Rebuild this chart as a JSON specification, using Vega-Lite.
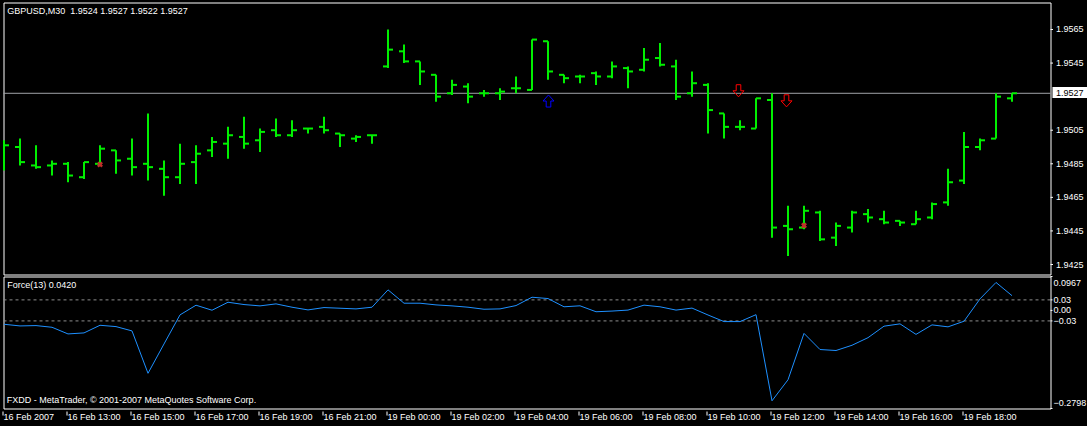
{
  "$schema": "https://vega.github.io/schema/vega-lite/v6.json",
  "autosize": {"type": "pad"},
  "padding": {"left": 1.5, "top": 1.5, "right": 12, "bottom": 12},
  "background": "#000000",
  "bounds": "flush",
  "spacing": 2,
  "config": {
    "view": {"stroke": "#ffffff", "strokeWidth": 1, "fill": "#000000"},
    "font": "Liberation Sans",
    "axis": {"grid": false, "domain": false, "labelFont": "Liberation Sans", "labelFontSize": 9, "labelColor": "#ffffff", "tickColor": "#ffffff", "tickWidth": 1, "translate": 0}
  },
  "resolve": {"scale": {"x": "independent", "y": "independent"}},
  "datasets": {
    "bars": [
      {"i": 0, "t": "16 Feb 11:00", "o": 1.9491, "h": 1.9499, "l": 1.9481, "c": 1.9496, "f": -0.0395},
      {"i": 1, "t": "16 Feb 11:30", "o": 1.9495, "h": 1.9500, "l": 1.9484, "c": 1.9486, "f": -0.0443},
      {"i": 2, "t": "16 Feb 12:00", "o": 1.9484, "h": 1.9496, "l": 1.9482, "c": 1.9483, "f": -0.0433},
      {"i": 3, "t": "16 Feb 12:30", "o": 1.9484, "h": 1.9487, "l": 1.9478, "c": 1.9485, "f": -0.0481},
      {"i": 4, "t": "16 Feb 13:00", "o": 1.9485, "h": 1.9486, "l": 1.9474, "c": 1.9478, "f": -0.0671},
      {"i": 5, "t": "16 Feb 13:30", "o": 1.9477, "h": 1.9486, "l": 1.9476, "c": 1.9486, "f": -0.0642},
      {"i": 6, "t": "16 Feb 14:00", "o": 1.9485, "h": 1.9496, "l": 1.9484, "c": 1.9494, "f": -0.0424},
      {"i": 7, "t": "16 Feb 14:30", "o": 1.9493, "h": 1.9493, "l": 1.9479, "c": 1.9487, "f": -0.0462},
      {"i": 8, "t": "16 Feb 15:00", "o": 1.9488, "h": 1.9500, "l": 1.9478, "c": 1.9483, "f": -0.0585},
      {"i": 9, "t": "16 Feb 15:30", "o": 1.9485, "h": 1.9515, "l": 1.9475, "c": 1.9483, "f": -0.1794},
      {"i": 10, "t": "16 Feb 16:00", "o": 1.9482, "h": 1.9487, "l": 1.9466, "c": 1.9477, "f": -0.0957},
      {"i": 11, "t": "16 Feb 16:30", "o": 1.9477, "h": 1.9497, "l": 1.9473, "c": 1.9485, "f": -0.0128},
      {"i": 12, "t": "16 Feb 17:00", "o": 1.9486, "h": 1.9496, "l": 1.9473, "c": 1.9491, "f": 0.0148},
      {"i": 13, "t": "16 Feb 17:30", "o": 1.9493, "h": 1.9501, "l": 1.9489, "c": 1.9498, "f": 0.0005},
      {"i": 14, "t": "16 Feb 18:00", "o": 1.9497, "h": 1.9507, "l": 1.9488, "c": 1.9502, "f": 0.0233},
      {"i": 15, "t": "16 Feb 18:30", "o": 1.9501, "h": 1.9513, "l": 1.9494, "c": 1.9497, "f": 0.0167},
      {"i": 16, "t": "16 Feb 19:00", "o": 1.9499, "h": 1.9506, "l": 1.9492, "c": 1.9504, "f": 0.0129},
      {"i": 17, "t": "16 Feb 19:30", "o": 1.9505, "h": 1.9512, "l": 1.9501, "c": 1.9502, "f": 0.0186},
      {"i": 18, "t": "16 Feb 20:00", "o": 1.9502, "h": 1.9511, "l": 1.9501, "c": 1.9505, "f": 0.0091},
      {"i": 19, "t": "16 Feb 20:30", "o": 1.9506, "h": 1.9506, "l": 1.9503, "c": 1.9506, "f": 0.0014},
      {"i": 20, "t": "16 Feb 21:00", "o": 1.9507, "h": 1.9513, "l": 1.9503, "c": 1.9505, "f": 0.0081},
      {"i": 21, "t": "16 Feb 21:30", "o": 1.9503, "h": 1.9503, "l": 1.9495, "c": 1.9502, "f": 0.0062},
      {"i": 22, "t": "16 Feb 22:00", "o": 1.9500, "h": 1.9502, "l": 1.9498, "c": 1.9501, "f": 0.0043},
      {"i": 23, "t": "16 Feb 22:30", "o": 1.9502, "h": 1.9502, "l": 1.9497, "c": 1.9502, "f": 0.0091},
      {"i": 24, "t": "19 Feb 00:00", "o": 1.9543, "h": 1.9565, "l": 1.9542, "c": 1.9553, "f": 0.0586},
      {"i": 25, "t": "19 Feb 00:30", "o": 1.9552, "h": 1.9556, "l": 1.9545, "c": 1.9546, "f": 0.0205},
      {"i": 26, "t": "19 Feb 01:00", "o": 1.9546, "h": 1.9546, "l": 1.9532, "c": 1.9540, "f": 0.0205},
      {"i": 27, "t": "19 Feb 01:30", "o": 1.9538, "h": 1.9538, "l": 1.9522, "c": 1.9525, "f": 0.0157},
      {"i": 28, "t": "19 Feb 02:00", "o": 1.9527, "h": 1.9535, "l": 1.9526, "c": 1.9532, "f": 0.0129},
      {"i": 29, "t": "19 Feb 02:30", "o": 1.9531, "h": 1.9533, "l": 1.9521, "c": 1.9525, "f": 0.0091},
      {"i": 30, "t": "19 Feb 03:00", "o": 1.9527, "h": 1.9529, "l": 1.9525, "c": 1.9527, "f": 0.0033},
      {"i": 31, "t": "19 Feb 03:30", "o": 1.9527, "h": 1.9530, "l": 1.9523, "c": 1.9528, "f": 0.0043},
      {"i": 32, "t": "19 Feb 04:00", "o": 1.9530, "h": 1.9537, "l": 1.9527, "c": 1.9530, "f": 0.0138},
      {"i": 33, "t": "19 Feb 04:30", "o": 1.9529, "h": 1.9559, "l": 1.9529, "c": 1.9559, "f": 0.0376},
      {"i": 34, "t": "19 Feb 05:00", "o": 1.9558, "h": 1.9558, "l": 1.9535, "c": 1.9540, "f": 0.0338},
      {"i": 35, "t": "19 Feb 05:30", "o": 1.9538, "h": 1.9538, "l": 1.9533, "c": 1.9536, "f": 0.0103},
      {"i": 36, "t": "19 Feb 06:00", "o": 1.9537, "h": 1.9538, "l": 1.9533, "c": 1.9537, "f": 0.0131},
      {"i": 37, "t": "19 Feb 06:30", "o": 1.9539, "h": 1.9540, "l": 1.9532, "c": 1.9537, "f": -0.0038},
      {"i": 38, "t": "19 Feb 07:00", "o": 1.9537, "h": 1.9546, "l": 1.9536, "c": 1.9543, "f": -0.0019},
      {"i": 39, "t": "19 Feb 07:30", "o": 1.9542, "h": 1.9543, "l": 1.9530, "c": 1.9540, "f": 0.0009},
      {"i": 40, "t": "19 Feb 08:00", "o": 1.9541, "h": 1.9554, "l": 1.9540, "c": 1.9547, "f": 0.0150},
      {"i": 41, "t": "19 Feb 08:30", "o": 1.9548, "h": 1.9557, "l": 1.9543, "c": 1.9544, "f": 0.0103},
      {"i": 42, "t": "19 Feb 09:00", "o": 1.9543, "h": 1.9547, "l": 1.9523, "c": 1.9525, "f": 0.0009},
      {"i": 43, "t": "19 Feb 09:30", "o": 1.9527, "h": 1.9540, "l": 1.9525, "c": 1.9533, "f": 0.0066},
      {"i": 44, "t": "19 Feb 10:00", "o": 1.9532, "h": 1.9533, "l": 1.9503, "c": 1.9517, "f": -0.0131},
      {"i": 45, "t": "19 Feb 10:30", "o": 1.9515, "h": 1.9515, "l": 1.9500, "c": 1.9507, "f": -0.0319},
      {"i": 46, "t": "19 Feb 11:00", "o": 1.9507, "h": 1.9511, "l": 1.9505, "c": 1.9507, "f": -0.0319},
      {"i": 47, "t": "19 Feb 11:30", "o": 1.9506, "h": 1.9524, "l": 1.9506, "c": 1.9524, "f": -0.0122},
      {"i": 48, "t": "19 Feb 12:00", "o": 1.9523, "h": 1.9527, "l": 1.9441, "c": 1.9447, "f": -0.2578},
      {"i": 49, "t": "19 Feb 12:30", "o": 1.9448, "h": 1.9460, "l": 1.9430, "c": 1.9446, "f": -0.1978},
      {"i": 50, "t": "19 Feb 13:00", "o": 1.9447, "h": 1.9460, "l": 1.9446, "c": 1.9457, "f": -0.0656},
      {"i": 51, "t": "19 Feb 13:30", "o": 1.9456, "h": 1.9457, "l": 1.9439, "c": 1.9440, "f": -0.1116},
      {"i": 52, "t": "19 Feb 14:00", "o": 1.9441, "h": 1.9450, "l": 1.9436, "c": 1.9448, "f": -0.1144},
      {"i": 53, "t": "19 Feb 14:30", "o": 1.9447, "h": 1.9457, "l": 1.9444, "c": 1.9456, "f": -0.0994},
      {"i": 54, "t": "19 Feb 15:00", "o": 1.9455, "h": 1.9458, "l": 1.9450, "c": 1.9453, "f": -0.0778},
      {"i": 55, "t": "19 Feb 15:30", "o": 1.9452, "h": 1.9457, "l": 1.9449, "c": 1.9450, "f": -0.0450},
      {"i": 56, "t": "19 Feb 16:00", "o": 1.9451, "h": 1.9451, "l": 1.9448, "c": 1.9450, "f": -0.0384},
      {"i": 57, "t": "19 Feb 16:30", "o": 1.9449, "h": 1.9457, "l": 1.9449, "c": 1.9452, "f": -0.0684},
      {"i": 58, "t": "19 Feb 17:00", "o": 1.9453, "h": 1.9462, "l": 1.9452, "c": 1.9461, "f": -0.0413},
      {"i": 59, "t": "19 Feb 17:30", "o": 1.9462, "h": 1.9482, "l": 1.9460, "c": 1.9474, "f": -0.0469},
      {"i": 60, "t": "19 Feb 18:00", "o": 1.9475, "h": 1.9504, "l": 1.9473, "c": 1.9495, "f": -0.0309},
      {"i": 61, "t": "19 Feb 18:30", "o": 1.9495, "h": 1.9500, "l": 1.9493, "c": 1.9499, "f": 0.0328},
      {"i": 62, "t": "19 Feb 19:00", "o": 1.9500, "h": 1.9527, "l": 1.9500, "c": 1.9525, "f": 0.0797},
      {"i": 63, "t": "19 Feb 19:30", "o": 1.9524, "h": 1.9527, "l": 1.9522, "c": 1.9527, "f": 0.0420}
    ],
    "signals": [
      {"i": 6, "p": 1.94846, "s": "mark"},
      {"i": 50, "p": 1.94482, "s": "mark"},
      {"i": 34, "p": 1.95224, "s": "buy"},
      {"i": 46, "p": 1.95285, "s": "sell"},
      {"i": 49, "p": 1.95225, "s": "sell"}
    ],
    "priceTicks": [{"v": 1.9565}, {"v": 1.9545}, {"v": 1.9505}, {"v": 1.9485}, {"v": 1.9465}, {"v": 1.9445}, {"v": 1.9425}],
    "forceTicks": [{"v": 0.0967, "k": "top"}, {"v": 0.03, "k": "mid"}, {"v": 0, "k": "mid"}, {"v": -0.03, "k": "mid"}, {"v": -0.2798, "k": "bottom"}]
  },
  "vconcat": [
    {
      "width": 1047,
      "height": 272,
      "layer": [
        {
          "data": {"values": [{"bid": 1.9527}]},
          "mark": {"type": "rule", "color": "#a0a3a8", "strokeWidth": 1},
          "encoding": {
            "y": {"field": "bid", "type": "quantitative", "title": null, "axis": null,
                  "scale": {"domain": [1.9419043, 1.9581085], "nice": false, "zero": false}}
          }
        },
        {
          "data": {"name": "bars"},
          "mark": {"type": "rule", "color": "#00f000", "strokeWidth": 2},
          "encoding": {
            "x": {"field": "i", "type": "quantitative", "axis": null, "scale": {"domain": [-0.03125, 65.40625], "nice": false, "zero": false}},
            "y": {"field": "l", "type": "quantitative", "axis": null, "scale": {"domain": [1.9419043, 1.9581085], "nice": false, "zero": false}},
            "y2": {"field": "h"}
          }
        },
        {
          "data": {"name": "bars"},
          "transform": [{"filter": "datum.i > 0"}],
          "mark": {"type": "rule", "color": "#00f000", "strokeWidth": 2, "xOffset": -5, "x2Offset": 0},
          "encoding": {
            "x": {"field": "i", "type": "quantitative", "axis": null, "scale": {"domain": [-0.03125, 65.40625], "nice": false, "zero": false}},
            "x2": {"field": "i"},
            "y": {"field": "o", "type": "quantitative", "axis": null, "scale": {"domain": [1.9419043, 1.9581085], "nice": false, "zero": false}}
          }
        },
        {
          "data": {"name": "bars"},
          "mark": {"type": "rule", "color": "#00f000", "strokeWidth": 2, "xOffset": 0, "x2Offset": 5},
          "encoding": {
            "x": {"field": "i", "type": "quantitative", "axis": null, "scale": {"domain": [-0.03125, 65.40625], "nice": false, "zero": false}},
            "x2": {"field": "i"},
            "y": {"field": "c", "type": "quantitative", "axis": null, "scale": {"domain": [1.9419043, 1.9581085], "nice": false, "zero": false}}
          }
        },
        {
          "data": {"name": "signals"},
          "transform": [{"filter": "datum.s == 'mark'"}],
          "mark": {"type": "point", "shape": "cross", "angle": 45, "filled": true, "size": 36, "color": "#c0302a", "opacity": 1},
          "encoding": {
            "x": {"field": "i", "type": "quantitative", "axis": null, "scale": {"domain": [-0.03125, 65.40625], "nice": false, "zero": false}},
            "y": {"field": "p", "type": "quantitative", "axis": null, "scale": {"domain": [1.9419043, 1.9581085], "nice": false, "zero": false}}
          }
        },
        {
          "data": {"name": "signals"},
          "transform": [{"filter": "datum.s == 'buy'"}],
          "mark": {"type": "point", "shape": "M0,-1.1L1,0L0.42,0L0.42,1.1L-0.42,1.1L-0.42,0L-1,0Z", "filled": false, "size": 121, "color": "#0000ff", "strokeWidth": 1, "opacity": 1, "xOffset": 0.5},
          "encoding": {
            "x": {"field": "i", "type": "quantitative", "axis": null, "scale": {"domain": [-0.03125, 65.40625], "nice": false, "zero": false}},
            "y": {"field": "p", "type": "quantitative", "axis": null, "scale": {"domain": [1.9419043, 1.9581085], "nice": false, "zero": false}}
          }
        },
        {
          "data": {"name": "signals"},
          "transform": [{"filter": "datum.s == 'sell'"}],
          "mark": {"type": "point", "shape": "M0,1.1L1,0L0.42,0L0.42,-1.1L-0.42,-1.1L-0.42,0L-1,0Z", "filled": false, "size": 121, "color": "#ff0000", "strokeWidth": 1, "opacity": 1, "xOffset": -1.5},
          "encoding": {
            "x": {"field": "i", "type": "quantitative", "axis": null, "scale": {"domain": [-0.03125, 65.40625], "nice": false, "zero": false}},
            "y": {"field": "p", "type": "quantitative", "axis": null, "scale": {"domain": [1.9419043, 1.9581085], "nice": false, "zero": false}}
          }
        },
        {
          "data": {"values": [{"label": "GBPUSD,M30\u00a0 1.9524 1.9527 1.9522 1.9527"}]},
          "mark": {"type": "text", "align": "left", "baseline": "alphabetic", "font": "Liberation Sans", "fontSize": 9, "color": "#ffffff"},
          "encoding": {
            "text": {"field": "label"},
            "x": {"datum": 0.2, "type": "quantitative", "axis": null, "scale": {"domain": [-0.03125, 65.40625], "nice": false, "zero": false}},
            "y": {"datum": 1.957423, "type": "quantitative", "axis": null, "scale": {"domain": [1.9419043, 1.9581085], "nice": false, "zero": false}}
          }
        },
        {
          "data": {"name": "priceTicks"},
          "mark": {"type": "rule", "color": "#ffffff", "strokeWidth": 1},
          "encoding": {
            "x": {"datum": 65.40625, "type": "quantitative", "axis": null, "scale": {"domain": [-0.03125, 65.40625], "nice": false, "zero": false}},
            "x2": {"datum": 65.5625},
            "y": {"field": "v", "type": "quantitative", "axis": null, "scale": {"domain": [1.9419043, 1.9581085], "nice": false, "zero": false}}
          }
        },
        {
          "data": {"name": "priceTicks"},
          "mark": {"type": "text", "align": "left", "baseline": "middle", "font": "Liberation Sans", "fontSize": 9, "color": "#ffffff"},
          "encoding": {
            "text": {"field": "v", "type": "quantitative", "format": ".4f"},
            "x": {"datum": 65.75, "type": "quantitative", "axis": null, "scale": {"domain": [-0.03125, 65.40625], "nice": false, "zero": false}},
            "y": {"field": "v", "type": "quantitative", "axis": null, "scale": {"domain": [1.9419043, 1.9581085], "nice": false, "zero": false}}
          }
        },
        {
          "data": {"values": [{"bid": 1.9527}]},
          "mark": {"type": "rect", "color": "#ffffff", "opacity": 1},
          "encoding": {
            "x": {"datum": 65.53, "type": "quantitative", "axis": null, "scale": {"domain": [-0.03125, 65.40625], "nice": false, "zero": false}},
            "x2": {"datum": 67.75},
            "y": {"datum": 1.953074, "type": "quantitative", "axis": null, "scale": {"domain": [1.9419043, 1.9581085], "nice": false, "zero": false}},
            "y2": {"datum": 1.952419}
          }
        },
        {
          "data": {"values": [{"bid": 1.9527}]},
          "mark": {"type": "text", "align": "left", "baseline": "middle", "font": "Liberation Sans", "fontSize": 9, "color": "#000000"},
          "encoding": {
            "text": {"field": "bid", "type": "quantitative", "format": ".4f"},
            "x": {"datum": 65.75, "type": "quantitative", "axis": null, "scale": {"domain": [-0.03125, 65.40625], "nice": false, "zero": false}},
            "y": {"field": "bid", "type": "quantitative", "axis": null, "scale": {"domain": [1.9419043, 1.9581085], "nice": false, "zero": false}}
          }
        }
      ]
    },
    {
      "width": 1047,
      "height": 132,
      "layer": [
        {
          "data": {"values": [{"lv": 0.03}, {"lv": -0.03}]},
          "mark": {"type": "rule", "color": "#8c8c8c", "strokeWidth": 1, "strokeDash": [3, 3]},
          "encoding": {
            "y": {"field": "lv", "type": "quantitative", "title": null, "axis": null,
                  "scale": {"domain": [-0.2798, 0.0967], "nice": false, "zero": false}}
          }
        },
        {
          "data": {"name": "bars"},
          "mark": {"type": "line", "color": "#1e90ff", "strokeWidth": 1},
          "encoding": {
            "x": {"field": "i", "type": "quantitative", "title": null,
                  "scale": {"domain": [-0.03125, 65.40625], "nice": false, "zero": false},
                  "axis": {"orient": "bottom", "values": [0, 4, 8, 12, 16, 20, 24, 28, 32, 36, 40, 44, 48, 52, 56, 60],
                           "labelExpr": "['16 Feb 2007','16 Feb 13:00','16 Feb 15:00','16 Feb 17:00','16 Feb 19:00','16 Feb 21:00','19 Feb 00:00','19 Feb 02:00','19 Feb 04:00','19 Feb 06:00','19 Feb 08:00','19 Feb 10:00','19 Feb 12:00','19 Feb 14:00','19 Feb 16:00','19 Feb 18:00'][round(datum.value / 4)]",
                           "labelAlign": "left", "labelBaseline": "top", "tickOffset": -2, "labelOffset": 1, "labelPadding": -2.5, "tickSize": 4, "offset": 2.5, "translate": 0.5,
                           "labelOverlap": false, "labelFlush": false, "labelBound": false}},
            "y": {"field": "f", "type": "quantitative", "axis": null, "scale": {"domain": [-0.2798, 0.0967], "nice": false, "zero": false}}
          }
        },
        {
          "data": {"name": "forceTicks"},
          "mark": {"type": "rule", "color": "#ffffff", "strokeWidth": 1},
          "encoding": {
            "x": {"datum": 65.40625, "type": "quantitative", "scale": {"domain": [-0.03125, 65.40625], "nice": false, "zero": false}},
            "x2": {"datum": 65.53125},
            "y": {"field": "v", "type": "quantitative", "axis": null, "scale": {"domain": [-0.2798, 0.0967], "nice": false, "zero": false}}
          }
        },
        {
          "data": {"name": "forceTicks"},
          "transform": [{"filter": "datum.k == 'mid'"}],
          "mark": {"type": "text", "align": "left", "baseline": "middle", "font": "Liberation Sans", "fontSize": 9, "color": "#ffffff"},
          "encoding": {
            "text": {"field": "v", "type": "quantitative", "format": ".2f"},
            "x": {"datum": 65.59375, "type": "quantitative", "scale": {"domain": [-0.03125, 65.40625], "nice": false, "zero": false}},
            "y": {"field": "v", "type": "quantitative", "axis": null, "scale": {"domain": [-0.2798, 0.0967], "nice": false, "zero": false}}
          }
        },
        {
          "data": {"name": "forceTicks"},
          "transform": [{"filter": "datum.k == 'top'"}],
          "mark": {"type": "text", "align": "left", "baseline": "middle", "font": "Liberation Sans", "fontSize": 9, "color": "#ffffff", "yOffset": 6.2},
          "encoding": {
            "text": {"field": "v", "type": "quantitative", "format": ".4f"},
            "x": {"datum": 65.59375, "type": "quantitative", "scale": {"domain": [-0.03125, 65.40625], "nice": false, "zero": false}},
            "y": {"field": "v", "type": "quantitative", "axis": null, "scale": {"domain": [-0.2798, 0.0967], "nice": false, "zero": false}}
          }
        },
        {
          "data": {"name": "forceTicks"},
          "transform": [{"filter": "datum.k == 'bottom'"}],
          "mark": {"type": "text", "align": "left", "baseline": "middle", "font": "Liberation Sans", "fontSize": 9, "color": "#ffffff", "yOffset": -5.2},
          "encoding": {
            "text": {"field": "v", "type": "quantitative", "format": ".4f"},
            "x": {"datum": 65.59375, "type": "quantitative", "scale": {"domain": [-0.03125, 65.40625], "nice": false, "zero": false}},
            "y": {"field": "v", "type": "quantitative", "axis": null, "scale": {"domain": [-0.2798, 0.0967], "nice": false, "zero": false}}
          }
        },
        {
          "data": {"values": [{"label": "Force(13) 0.0420"}]},
          "mark": {"type": "text", "align": "left", "baseline": "alphabetic", "font": "Liberation Sans", "fontSize": 9, "color": "#ffffff"},
          "encoding": {
            "text": {"field": "label"},
            "x": {"datum": 0.2, "type": "quantitative", "scale": {"domain": [-0.03125, 65.40625], "nice": false, "zero": false}},
            "y": {"datum": 0.063, "type": "quantitative", "axis": null, "scale": {"domain": [-0.2798, 0.0967], "nice": false, "zero": false}}
          }
        },
        {
          "data": {"values": [{"label": "FXDD - MetaTrader, © 2001-2007 MetaQuotes Software Corp."}]},
          "mark": {"type": "text", "align": "left", "baseline": "alphabetic", "font": "Liberation Sans", "fontSize": 9, "color": "#ffffff"},
          "encoding": {
            "text": {"field": "label"},
            "x": {"datum": 0.17, "type": "quantitative", "scale": {"domain": [-0.03125, 65.40625], "nice": false, "zero": false}},
            "y": {"datum": -0.2633, "type": "quantitative", "axis": null, "scale": {"domain": [-0.2798, 0.0967], "nice": false, "zero": false}}
          }
        }
      ]
    }
  ]
}
